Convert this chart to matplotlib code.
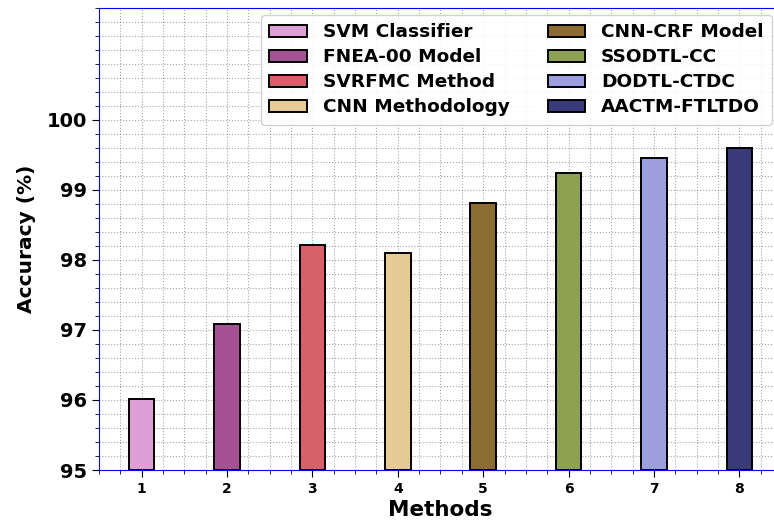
import matplotlib
matplotlib.use("Agg")
import matplotlib.pyplot as plt
from matplotlib.ticker import MultipleLocator

METHODS = [1, 2, 3, 4, 5, 6, 7, 8]
ACCURACY = [96.01, 97.08, 98.22, 98.10, 98.81, 99.24, 99.46, 99.60]
LABELS = [
    "SVM Classifier",
    "FNEA-00 Model",
    "SVRFMC Method",
    "CNN Methodology",
    "CNN-CRF Model",
    "SSODTL-CC",
    "DODTL-CTDC",
    "AACTM-FTLTDO",
]
COLORS = ["#de9ed6", "#a55194", "#d6616b", "#e7cb94", "#8c6d31", "#8ca252", "#9c9ede", "#393b79"]

W, H = 774, 521
fig = plt.figure(figsize=(W / 100, H / 100), dpi=100)
ax = fig.add_axes([99 / W, (H - 470) / H, 683 / W, 462 / H])

for x, y, c, lab in zip(METHODS, ACCURACY, COLORS, LABELS):
    ax.bar(x, y - 95, bottom=95, width=0.3, color=c, edgecolor="black",
           linewidth=1.4, label=lab, zorder=3)

ax.set_xlim(0.5, 8.5)
ax.set_ylim(95, 101.6)
ax.set_xticks(METHODS)
ax.set_yticks([95, 96, 97, 98, 99, 100])
ax.xaxis.set_minor_locator(MultipleLocator(0.25))
ax.yaxis.set_minor_locator(MultipleLocator(0.2))
ax.grid(which="both", linestyle=":", color="gray", linewidth=0.8, alpha=0.7, zorder=0)
ax.set_axisbelow(True)

for lab in ax.get_yticklabels():
    lab.set_fontweight("bold")
    lab.set_fontsize(14)
for lab in ax.get_xticklabels():
    lab.set_fontweight("bold")
    lab.set_fontsize(10)

ax.tick_params(which="major", length=5)
ax.tick_params(which="minor", length=3)

for s in ax.spines.values():
    s.set_color("blue")

ax.set_xlabel("Methods", fontsize=15.5, fontweight="bold", labelpad=3)
ax.set_ylabel("Accuracy (%)", fontsize=14.5, fontweight="bold", labelpad=8)

ax.legend(ncol=2, loc="upper left", bbox_to_anchor=(261 / W, 1 - 15 / H),
          bbox_transform=fig.transFigure, prop={"weight": "bold", "size": 13.3},
          handlelength=2.05, handleheight=0.6, handletextpad=0.85,
          labelspacing=0.38, columnspacing=2.05,
          borderpad=0.45, borderaxespad=0, framealpha=0.9)

fig.savefig("out.png", dpi=100)
